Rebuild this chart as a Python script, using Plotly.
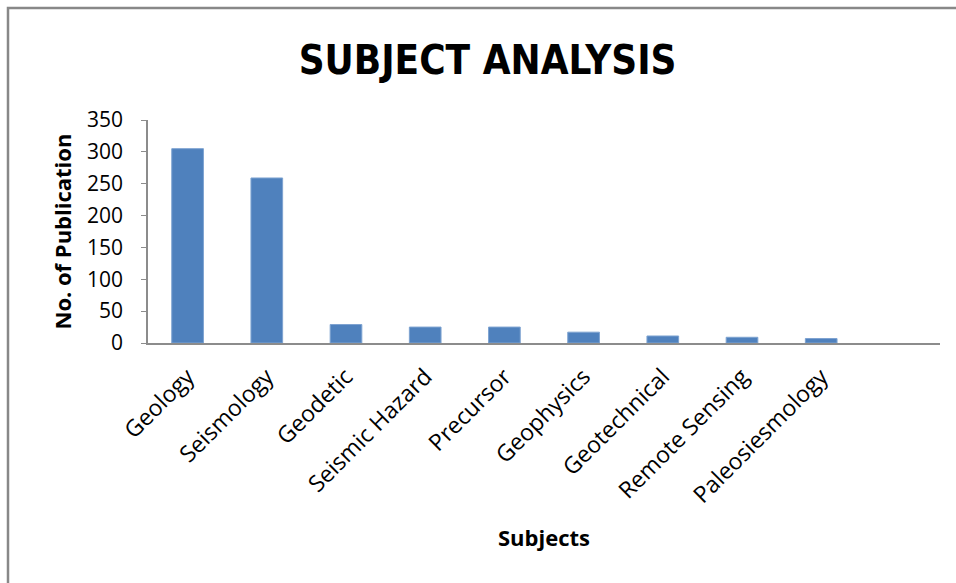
import plotly.graph_objects as go

# Publication counts per subject area
subjects = ["Geology", "Seismology", "Geodetic", "Seismic Hazard", "Precursor",
            "Geophysics", "Geotechnical", "Remote Sensing", "Paleosiesmology"]
publications = [305, 259, 29, 25, 25, 17, 11, 9, 7]
y_ticks = [0, 50, 100, 150, 200, 250, 300, 350]

positions = list(range(len(subjects)))

fig = go.Figure(
    go.Bar(
        x=positions,
        y=publications,
        width=0.4,
        marker=dict(color="#4F81BD", line=dict(color="#7EA3D1", width=1)),
        hoverinfo="x+y",
    )
)

fig.update_layout(
    width=956,
    height=583,
    margin=dict(l=148, r=16, t=120, b=240),
    paper_bgcolor="white",
    plot_bgcolor="white",
    showlegend=False,
    title=dict(
        text="<b>SUBJECT ANALYSIS</b>",
        font=dict(family="DejaVu Sans Condensed, Lato, sans-serif", size=40, color="black"),
        x=0.51, xanchor="center",
        y=1 - 60 / 583, yanchor="middle", yref="container",
    ),
    font=dict(family="Open Sans, sans-serif", color="black"),
)

fig.update_xaxes(
    range=[-0.5, 9.5],
    tickmode="array",
    tickvals=positions,
    ticktext=subjects,
    tickangle=-45,
    tickfont=dict(size=23, color="black"),
    ticklabelstandoff=9,
    showline=True, linecolor="#8C8C8C", linewidth=2,
    showgrid=False, zeroline=False,
    ticks="",
)

fig.update_yaxes(
    range=[0, 350],
    tickmode="array",
    tickvals=y_ticks,
    tickfont=dict(size=21, color="black"),
    showline=True, linecolor="#8C8C8C", linewidth=1.5,
    ticks="outside", ticklen=5, tickcolor="#8C8C8C",
    ticklabelstandoff=14,
    showgrid=False, zeroline=False,
)

fig.add_annotation(
    text="<b>No. of Publication</b>", textangle=-90,
    xref="paper", yref="paper", x=(61 - 148) / 792, y=0.5,
    xanchor="center", yanchor="middle", showarrow=False,
    font=dict(size=22, color="black"),
)
fig.add_annotation(
    text="<b>Subjects</b>",
    xref="paper", yref="paper", x=0.5, y=(343 - 537) / 223,
    xanchor="center", yanchor="middle", showarrow=False,
    font=dict(size=22, color="black"),
)

# Chart-area frame
fig.add_shape(
    type="rect", xref="paper", yref="paper",
    x0=(8 - 148) / 792, x1=1.1, y0=-1.3, y1=(343 - 8) / 223,
    line=dict(color="#888888", width=2.5), fillcolor="rgba(0,0,0,0)", layer="below",
)

fig.write_html("out.html")
